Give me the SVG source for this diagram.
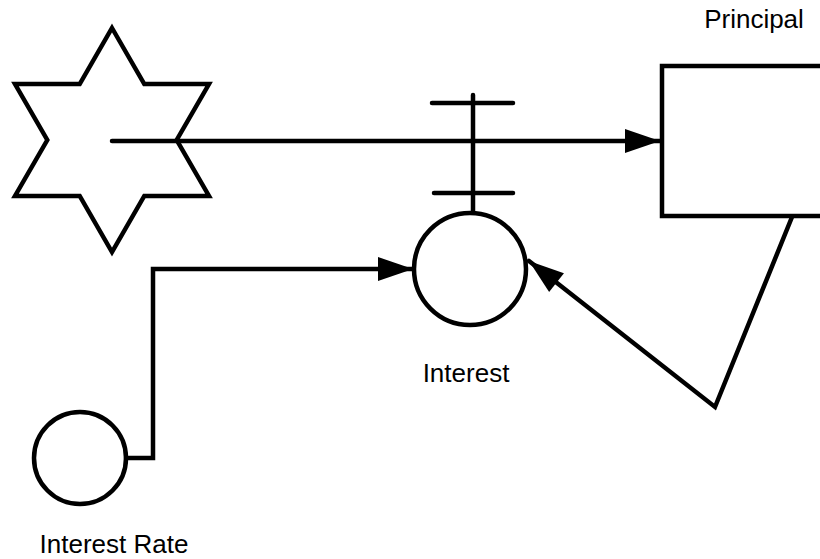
<svg xmlns="http://www.w3.org/2000/svg" width="820" height="559" viewBox="0 0 820 559">
<style>
.s{fill:none;stroke:#000;stroke-width:4.5;stroke-linejoin:miter;stroke-linecap:round}
.n{fill:#fff;stroke:#000;stroke-width:4.5}
.t{font-family:"Liberation Sans",Arial,sans-serif;font-size:26px;fill:#000;text-anchor:middle}
</style>
<defs>
<marker id="arr" markerUnits="userSpaceOnUse" markerWidth="36" markerHeight="26" refX="35" refY="12" orient="auto" overflow="visible">
<path d="M0,0 L35,12 L0,24 Z" fill="#000"/>
</marker>
</defs>
<rect width="820" height="559" fill="#fff"/>
<g id="source">
<polygon class="n" stroke-linejoin="miter" points="112,28 144.3,84 209,84 176.7,140 209,196 144.3,196 112,252 79.7,196 15,196 47.3,140 15,84 79.7,84"/>
</g>
<g id="principal">
<rect class="n" x="662" y="66" width="170" height="150"/>
<text class="t" x="754" y="28">Principal</text>
</g>
<g id="interest">
<line class="s" x1="473" y1="95" x2="473" y2="212"/>
<line class="s" x1="432" y1="103" x2="513" y2="103"/>
<line class="s" x1="434" y1="193" x2="513" y2="193"/>
<circle class="n" cx="470" cy="269" r="56"/>
<text class="t" x="466" y="382">Interest</text>
</g>
<g id="interest-rate">
<circle class="n" cx="80" cy="458" r="46"/>
<text class="t" x="114" y="553">Interest Rate</text>
</g>
<g id="connectors">
<line class="s" x1="112" y1="141" x2="660" y2="141" marker-end="url(#arr)"/>
<polyline class="s" stroke-linecap="butt" points="126,458 153,458 153,269 413,269" marker-end="url(#arr)"/>
<polyline class="s" points="792,217 715,407 529,261" marker-end="url(#arr)"/>
</g>
</svg>
